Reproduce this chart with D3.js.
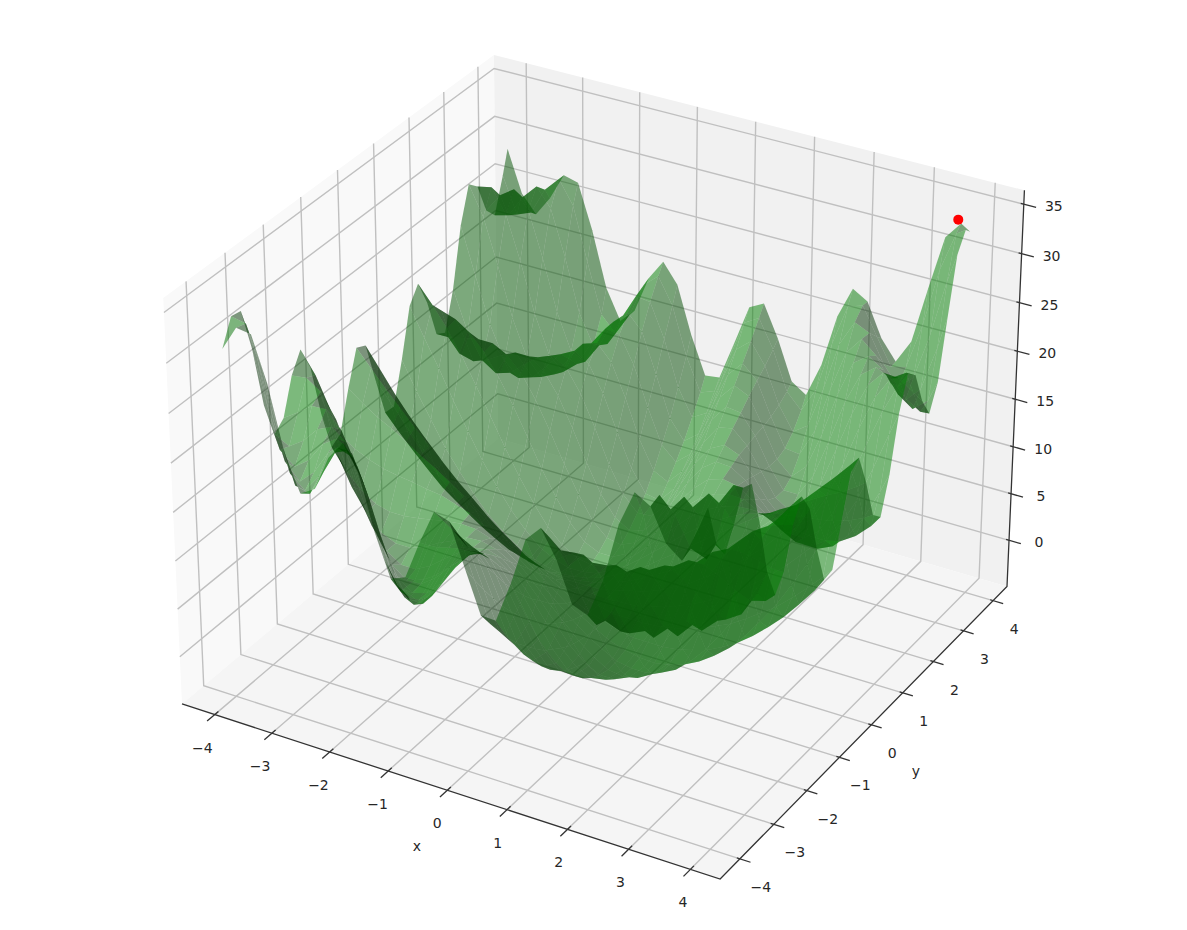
<!DOCTYPE html>
<html><head><meta charset="utf-8">
<script src="https://cdn.jsdelivr.net/npm/d3@7"></script>
<style>html,body{margin:0;padding:0;background:#fff}svg{display:block}</style></head>
<body><svg id="c" width="1187" height="930"></svg>
<script>
const xTicks=[-4,-3,-2,-1,0,1,2,3,4];
const yTicks=[-4,-3,-2,-1,0,1,2,3,4];
const zTicks=[0,5,10,15,20,25,30,35];
const gridCoords=[-4,-3.75,-3.5,-3.25,-3,-2.75,-2.5,-2.25,-2,-1.75,-1.5,-1.25,-1,-0.75,-0.5,-0.25,0,0.25,0.5,0.75,1,1.25,1.5,1.75,2,2.25,2.5,2.75,3,3.25,3.5,3.75,3.9];
// Surface heights on a coarse quarter-unit grid. Fitted estimates from ridge and valley positions,
// not direct readings of each point (much of the surface is hidden). Indexed by |x| and |y|; x and y of the same sign.
const zSameSign=[
[-0.2,-0.1,0.0,0.4,0.8,1.4,2.1,2.9,3.8,4.9,6.1,7.4,8.8,10.4,12.1,13.9,15.8],
[-0.1,0.3,0.7,1.3,2.1,2.9,4.0,5.0,6.2,7.6,9.0,10.7,12.3,14.0,15.9,18.0,20.1],
[0.0,0.7,1.6,2.5,3.4,4.5,5.7,6.9,8.3,9.6,11.1,12.5,14.0,15.6,17.2,18.9,20.6],
[0.4,1.3,2.5,3.6,4.8,6.0,7.1,8.3,9.4,10.4,11.4,12.3,13.3,14.2,15.0,16.0,17.1],
[0.8,2.1,3.4,4.8,6.0,7.1,8.0,8.8,9.3,9.8,10.0,10.3,10.5,10.8,11.3,12.0,13.1],
[1.4,2.9,4.5,6.0,7.1,7.9,8.4,8.5,8.3,8.0,7.7,7.5,7.5,7.9,8.9,10.4,12.5],
[2.1,4.0,5.7,7.1,8.0,8.4,8.3,7.5,6.8,5.9,5.4,5.4,6.1,7.7,10.0,13.1,16.7],
[2.9,5.0,6.9,8.3,8.8,8.5,7.5,6.4,5.2,4.4,4.4,5.4,7.6,10.6,14.3,18.3,22.2],
[3.8,6.2,8.3,9.4,9.3,8.3,6.8,5.2,4.1,4.0,5.2,7.8,11.4,15.5,19.4,22.6,24.8],
[4.9,7.6,9.6,10.4,9.8,8.0,5.9,4.4,4.0,5.2,8.1,11.9,16.1,19.7,22.1,23.1,22.9],
[6.1,9.0,11.1,11.4,10.0,7.7,5.4,4.4,5.2,8.1,12.2,16.4,19.8,21.5,21.4,20.3,19.3],
[7.4,10.7,12.5,12.3,10.3,7.5,5.4,5.4,7.8,11.9,16.4,19.7,20.9,20.2,18.6,17.6,18.4],
[8.8,12.3,14.0,13.3,10.5,7.5,6.1,7.6,11.4,16.1,19.8,20.9,19.9,17.8,16.7,18.0,22.1],
[10.4,14.0,15.6,14.2,10.8,7.9,7.7,10.6,15.5,19.7,21.5,20.2,17.8,16.4,18.0,22.7,28.5],
[12.1,15.9,17.2,15.0,11.3,8.9,10.0,14.3,19.4,22.1,21.4,18.6,16.7,18.0,22.8,28.8,33.0],
[13.9,18.0,18.9,16.0,12.0,10.4,13.1,18.3,22.6,23.1,20.3,17.6,18.0,22.7,28.8,32.9,33.2],
[15.8,20.1,20.6,17.1,13.1,12.5,16.7,22.2,24.8,22.9,19.3,18.4,22.1,28.5,33.0,33.2,30.7]];
// same indexing; x and y of opposite sign
const zOppositeSign=[
[-0.2,-0.1,0.0,0.4,0.8,1.4,2.1,2.9,3.8,4.9,6.1,7.4,8.8,10.4,12.1,13.9,15.8],
[-0.1,-0.5,-0.5,-0.5,-0.4,-0.1,0.2,0.8,1.5,2.2,3.2,4.3,5.4,6.8,8.3,9.9,11.6],
[0.0,-0.5,-1.0,-1.3,-1.3,-1.3,-1.1,-0.7,-0.2,0.6,1.5,2.7,4.1,5.6,7.4,9.3,11.5],
[0.4,-0.5,-1.3,-1.8,-2.1,-2.2,-1.9,-1.4,-0.6,0.5,1.8,3.5,5.5,7.6,10.2,12.8,15.7],
[0.8,-0.4,-1.3,-2.1,-2.4,-2.4,-1.9,-1.1,0.3,2.0,4.1,6.4,9.1,11.9,14.9,17.7,20.6],
[1.4,-0.1,-1.3,-2.2,-2.4,-2.1,-1.2,0.3,2.4,4.8,7.5,10.4,13.2,16.0,18.4,20.4,22.2],
[2.1,0.2,-1.1,-1.9,-1.9,-1.2,0.4,2.7,5.3,8.3,11.2,13.8,16.0,17.6,18.6,19.1,19.5],
[2.9,0.8,-0.7,-1.4,-1.1,0.3,2.7,5.5,8.6,11.5,13.9,15.4,16.2,16.2,15.9,15.5,15.5],
[3.8,1.5,-0.2,-0.6,0.3,2.4,5.3,8.6,11.6,13.8,14.9,14.9,14.2,13.3,12.7,13.1,14.9],
[4.9,2.2,0.6,0.5,2.0,4.8,8.3,11.5,13.8,14.7,14.1,12.9,11.6,11.1,12.1,14.7,18.8],
[6.1,3.2,1.5,1.8,4.1,7.5,11.2,13.9,14.9,14.1,12.4,10.8,10.3,11.8,15.2,19.9,24.8],
[7.4,4.3,2.7,3.5,6.4,10.4,13.8,15.4,14.9,12.9,10.8,10.1,11.8,15.6,20.7,25.4,28.4],
[8.8,5.4,4.1,5.5,9.1,13.2,16.0,16.2,14.2,11.6,10.3,11.8,15.7,20.9,25.4,27.8,27.5],
[10.4,6.8,5.6,7.6,11.9,16.0,17.6,16.2,13.3,11.1,11.8,15.6,20.9,25.5,27.3,26.3,24.3],
[12.1,8.3,7.4,10.2,14.9,18.4,18.6,15.9,12.7,12.1,15.2,20.7,25.4,27.3,25.8,23.5,23.1],
[13.9,9.9,9.3,12.8,17.7,20.4,19.1,15.5,13.1,14.7,19.9,25.4,27.8,26.3,23.5,22.9,26.6],
[15.8,11.6,11.5,15.7,20.6,22.2,19.5,15.5,14.9,18.8,24.8,28.4,27.5,24.3,23.1,26.6,33.2]];
// the grid stops at 3.9 on its positive side: heights along that edge, indexed by the other coordinate's |value| in quarter units
const edgeSameSign=[15.0,19.2,20.0,16.7,12.6,11.6,15.2,20.7,24.0,23.1,19.7,17.7,20.2,26.1,31.7,33.5];
const edgeOppositeSign=[15.0,10.9,10.7,14.6,19.5,21.5,19.4,15.5,14.0,17.1,22.8,27.4,27.8,25.0,22.9,24.7,29.0];
const cornerTip=32.9;
const redPoint=[3.7,3.9,33.8];
const xLim=[-4.576,4.476], yLim=[-4.576,4.476], zLim=[-5,36.4];

const svg=d3.select("#c");
const box=[1.1428,1.1428,0.8571];
const sx=d3.scaleLinear().domain(xLim).range([0,box[0]]);
const sy=d3.scaleLinear().domain(yLim).range([0,box[1]]);
const sz=d3.scaleLinear().domain(zLim).range([0,box[2]]);
const elev=30*Math.PI/180, azim=-60*Math.PI/180, dist=10;
const R=box.map(b=>b/2);
const dot=(a,b)=>a[0]*b[0]+a[1]*b[1]+a[2]*b[2];
const cross=(a,b)=>[a[1]*b[2]-a[2]*b[1],a[2]*b[0]-a[0]*b[2],a[0]*b[1]-a[1]*b[0]];
const norm=a=>{const l=Math.hypot(...a);return a.map(v=>v/l)};
const wDir=[Math.cos(elev)*Math.cos(azim),Math.cos(elev)*Math.sin(azim),Math.sin(elev)];
const eye=R.map((r,i)=>r+dist*wDir[i]);
const w=norm(wDir),u=norm(cross([0,0,1],w)),v=cross(w,u);
function raw(x,y,z){
  const p=[sx(x)-eye[0],sy(y)-eye[1],sz(z)-eye[2]];
  const d=-dot(p,w);
  return [dot(p,u)/d,dot(p,v)/d,d];
}
const pL=raw(xLim[0],yLim[0],zLim[0]),pR=raw(xLim[1],yLim[1],zLim[0]),pF=raw(xLim[1],yLim[0],zLim[0]),pT=raw(xLim[0],yLim[1],zLim[1]);
const px=d3.scaleLinear().domain([pL[0],pR[0]]).range([182,1007]);
const py=d3.scaleLinear().domain([pF[1],pT[1]]).range([879,55]);
function P(x,y,z){const r=raw(x,y,z);return [px(r[0]),py(r[1]),r[2]]}
const line=pts=>"M"+pts.map(p=>{const q=P(...p);return q[0].toFixed(2)+","+q[1].toFixed(2)}).join("L");

const g=svg.append("g");
const [x0,x1]=xLim,[y0,y1]=yLim,[z0,z1]=zLim;
g.append("path").attr("d",line([[x0,y0,z0],[x0,y1,z0],[x0,y1,z1],[x0,y0,z1]])+"Z").attr("fill","#f9f9f9");
g.append("path").attr("d",line([[x0,y1,z0],[x1,y1,z0],[x1,y1,z1],[x0,y1,z1]])+"Z").attr("fill","#f1f1f1");
g.append("path").attr("d",line([[x0,y0,z0],[x1,y0,z0],[x1,y1,z0],[x0,y1,z0]])+"Z").attr("fill","#f5f5f5");
const gridStyle=s=>s.attr("fill","none").attr("stroke","#c0c0c0").attr("stroke-width",1.4);
xTicks.forEach(t=>g.append("path").attr("d",line([[t,y0,z0],[t,y1,z0],[t,y1,z1]])).call(gridStyle));
yTicks.forEach(t=>g.append("path").attr("d",line([[x1,t,z0],[x0,t,z0],[x0,t,z1]])).call(gridStyle));
zTicks.forEach(t=>g.append("path").attr("d",line([[x0,y0,t],[x0,y1,t],[x1,y1,t]])).call(gridStyle));
const axisStyle=s=>s.attr("fill","none").attr("stroke","#333").attr("stroke-width",1.3);
g.append("path").attr("d",line([[x0,y0,z0],[x1,y0,z0],[x1,y1,z0],[x1,y1,z1]])).call(axisStyle);
xTicks.forEach(t=>g.append("path").attr("d",line([[t,y0+0.1,z0],[t,y0-0.2,z0]])).call(axisStyle));
yTicks.forEach(t=>g.append("path").attr("d",line([[x1-0.05,t,z0],[x1+0.17,t,z0]])).call(axisStyle));
zTicks.forEach(t=>g.append("path").attr("d",line([[x1-0.05,y1,t],[x1+0.2,y1,t]])).call(axisStyle));

const zAt=(i,j)=>{
  if(i===32&&j===32) return cornerTip;
  if(i===32) return j>=16?edgeSameSign[j-16]:edgeOppositeSign[16-j];
  if(j===32) return i>=16?edgeSameSign[i-16]:edgeOppositeSign[16-i];
  const a=Math.abs(i-16),b=Math.abs(j-16);
  const same=(gridCoords[i]*gridCoords[j])>=0;return (same?zSameSign:zOppositeSign)[a][b]};
const light=[-0.6667,-0.6667,0.3333];
const shadeIn=d3.scaleLinear().domain([-1,1]).range([0.3,1]);
const quads=[];
for(let i=0;i<gridCoords.length-1;i++)for(let j=0;j<gridCoords.length-1;j++){
  const pts=[[i,j],[i+1,j],[i+1,j+1],[i,j+1]].map(([a,b])=>[gridCoords[a],gridCoords[b],zAt(a,b)]);
  const v1=[0,1,2].map(k=>pts[0][k]-pts[1][k]),v2=[0,1,2].map(k=>pts[1][k]-pts[2][k]);
  const n=norm(cross(v1,v2));
  const f=shadeIn(dot(n,light));
  const depth=d3.mean(pts,p=>P(...p)[2]);
  quads.push({pts,f,depth});
}
quads.sort((a,b)=>b.depth-a.depth);
svg.append("g").selectAll("path").data(quads).join("path")
  .attr("d",d=>line(d.pts)+"Z")
  .attr("fill",d=>`rgb(0,${Math.round(128*d.f)},0)`)
  .attr("fill-opacity",0.5);
const rp=P(...redPoint);
svg.append("circle").attr("cx",rp[0]).attr("cy",rp[1]).attr("r",5).attr("fill","#ff0000");

const labels=svg.append("g").attr("font-family","'DejaVu Sans'").attr("font-size",14).attr("fill","#262626").attr("text-anchor","middle").attr("dominant-baseline","central");
const fmt=t=>t<0?"\u2212"+(-t):""+t;
xTicks.forEach(t=>{const p=P(t,y0,z0);labels.append("text").attr("x",p[0]-10+0.6*t).attr("y",p[1]+33).text(fmt(t))});
yTicks.forEach(t=>{const p=P(x1,t,z0);labels.append("text").attr("x",p[0]+21).attr("y",p[1]+28).text(fmt(t))});
zTicks.forEach(t=>{const p=P(x1,y1,t);labels.append("text").attr("x",p[0]+30).attr("y",p[1]+2).text(fmt(t))});
labels.append("text").attr("x",417).attr("y",846).text("x");
labels.append("text").attr("x",916).attr("y",771).text("y");
</script></body></html>
